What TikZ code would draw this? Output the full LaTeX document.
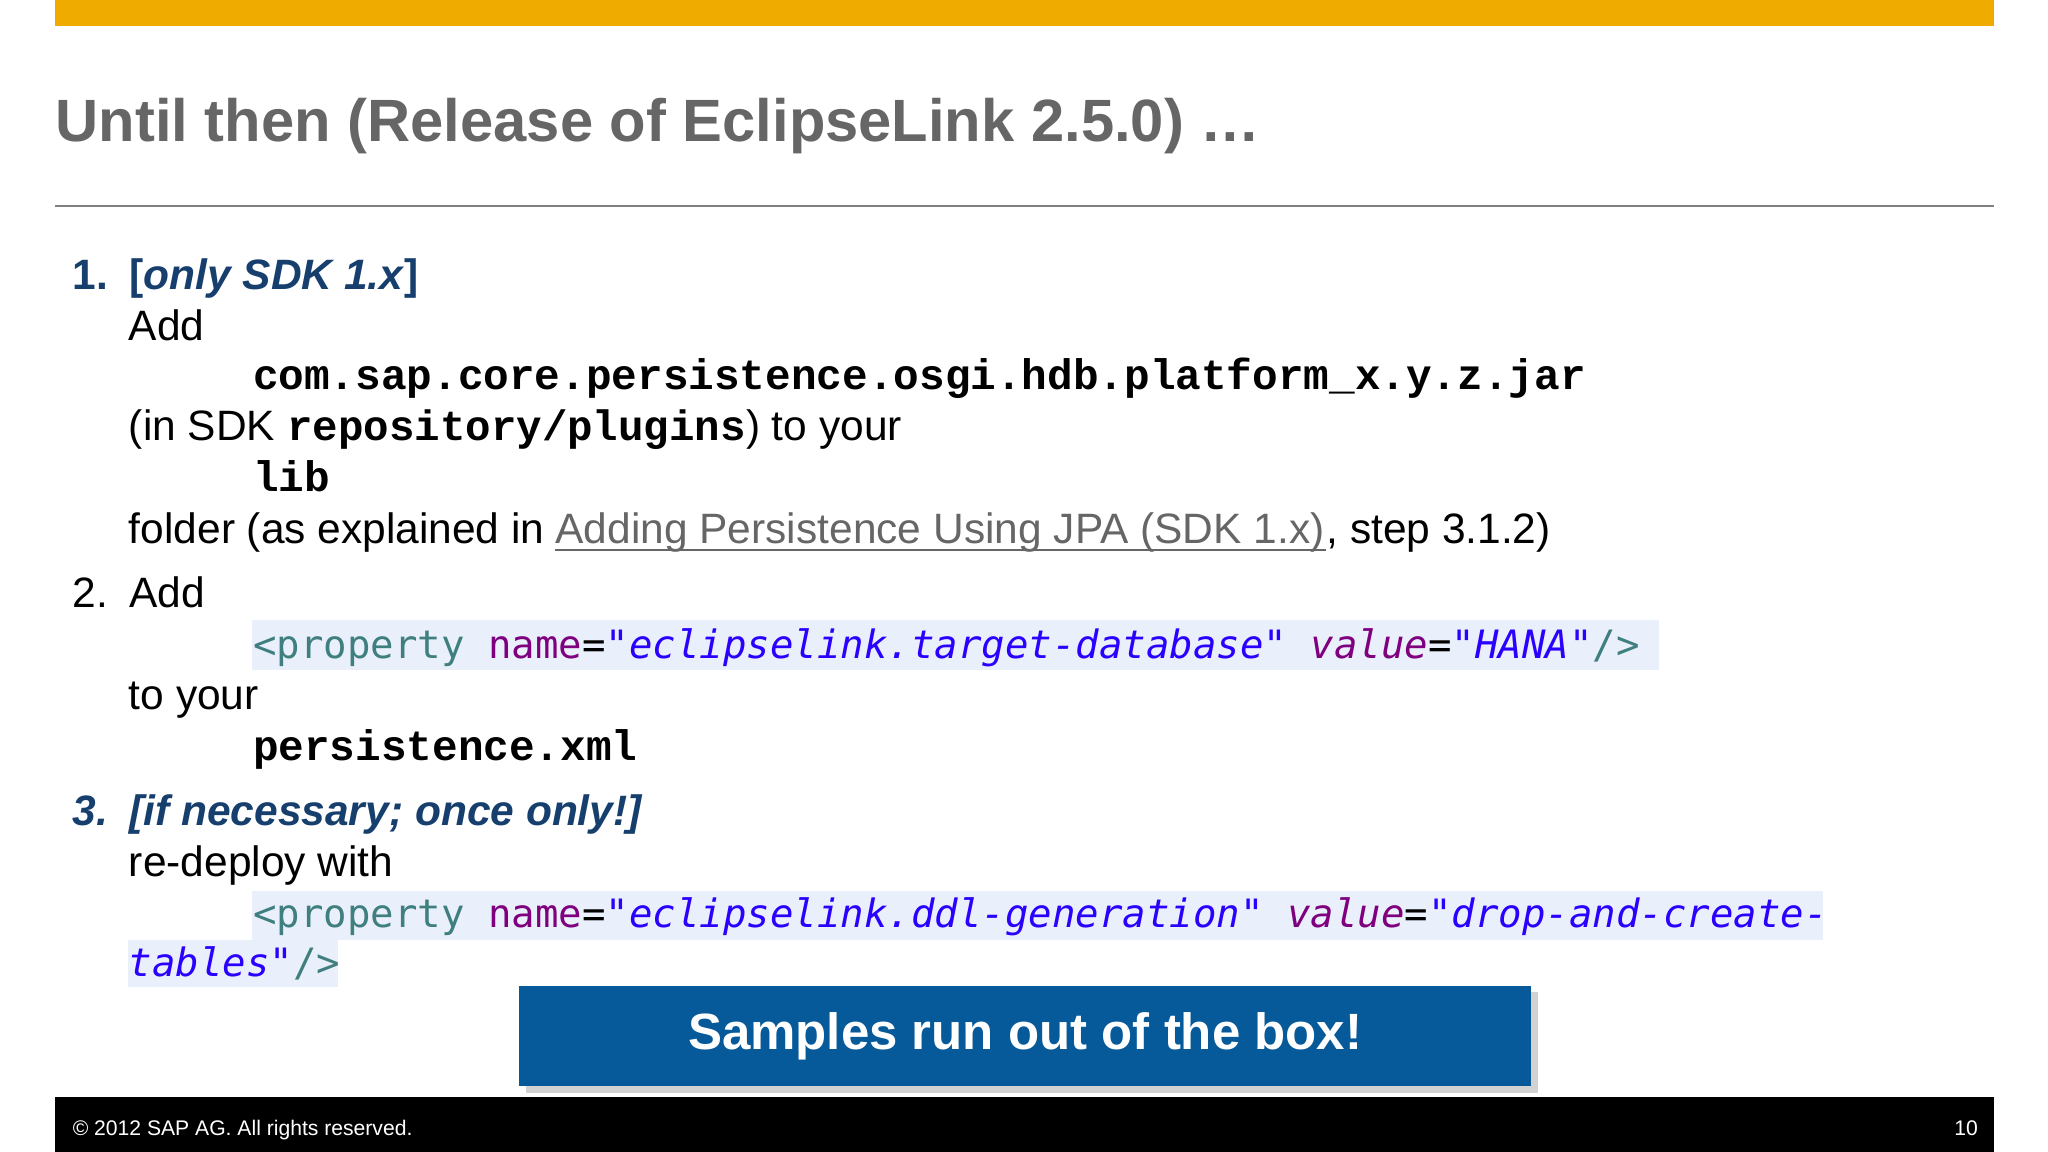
\documentclass[tikz,border=0pt]{standalone}
\usepackage{fontspec}
\setmainfont{Liberation Sans}
\setmonofont{Liberation Mono}
\newfontfamily\cons{DejaVu Sans Mono}
\usetikzlibrary{shadows}
\definecolor{sapor}{HTML}{F0AB00}
\definecolor{ttl}{HTML}{666666}
\definecolor{dblue}{HTML}{173F6E}
\definecolor{hl}{HTML}{EAF0FB}
\definecolor{ctag}{HTML}{3F7F7F}
\definecolor{cattr}{HTML}{7F007F}
\definecolor{cstr}{HTML}{2A00FF}
\definecolor{boxb}{HTML}{065A9A}
\tikzset{
 txt/.style={anchor=base west,inner sep=0pt,font=\fontsize{9.25pt}{10pt}\selectfont},
 bcode/.style={anchor=base west,inner sep=0pt,font=\fontsize{9.3pt}{10pt}\selectfont\ttfamily\bfseries},
 ccode/.style={anchor=base west,inner sep=0pt,font=\fontsize{8.5pt}{10pt}\selectfont\cons},
}
\newcommand{\tg}[1]{\textcolor{ctag}{#1}}
\newcommand{\at}[1]{\textcolor{cattr}{#1}}
\newcommand{\st}[1]{\textcolor{cstr}{\itshape #1}}
\begin{document}
\begin{tikzpicture}[x=0.01cm,y=-0.01cm]
\useasboundingbox (0,0) rectangle (1568,882);
\fill[white] (0,0) rectangle (1568,882);
\fill[sapor] (42,0) rectangle (1527,20);
\node[anchor=base west,inner sep=0pt,text=ttl,font=\fontsize{13pt}{16pt}\selectfont\bfseries] (title) at (42,108) {Until then (Release of EclipseLink 2.5.0) …};
\draw[gray,line width=0.4pt] (42,158) -- (1527,158);
% item 1
\node[txt,text=dblue,font=\fontsize{9.25pt}{10pt}\selectfont\bfseries] (n1) at (55,222) {1.\hspace{0.5em}[\textit{only SDK 1.x}]};
\node[txt] (a1) at (98,261) {Add};
\node[bcode] (c1) at (193,298) {com.sap.core.persistence.osgi.hdb.platform\_x.y.z.jar};
\node[txt] (a2) at (98,337) {(in SDK {\ttfamily\bfseries repository/plugins}) to your};
\node[bcode] (c2) at (193,376) {lib};
\node[txt] (a3) at (98,416) {folder (as explained in};
\node[txt,text=ttl] (lnk) at ([xshift=0.07cm]a3.base east) {Adding Persistence Using JPA (SDK 1.x)};
\node[txt] (a3b) at (lnk.base east) {, step 3.1.2)};
\draw[ttl,line width=0.5pt] ([yshift=-0.05cm]lnk.base west) -- ([yshift=-0.05cm]lnk.base east);
% item 2
\node[txt] (n2) at (55,465) {2.\hspace{0.5em}Add};
\fill[hl] (193,475) rectangle (1270,513);
\node[ccode] (c3) at (193,504) {\tg{<property} \at{name}=\st{"eclipselink.target-database"} \at{\itshape value}=\st{"HANA"}\tg{/>}};
\node[txt] (a4) at (98,543) {to your};
\node[bcode] (c4) at (193,582) {persistence.xml};
% item 3
\node[txt,text=dblue,font=\fontsize{9.25pt}{10pt}\selectfont\bfseries\itshape] (n3) at (55,632) {3.\hspace{0.5em}[if necessary; once only!]};
\node[txt] (a5) at (98,671) {re-deploy with};
\fill[hl] (193,682) rectangle (1396,720);
\fill[hl] (98,720) rectangle (259,756);
\node[ccode] (c5) at (193,710) {\tg{<property} \at{name}=\st{"eclipselink.ddl-generation"} \at{\itshape value}=\st{"drop-and-create-}};
\node[ccode] (c6) at (98,748) {\st{tables"}\tg{/>}};
% box
\node[draw=none,fill=boxb,drop shadow={opacity=0.35,shadow xshift=0.05cm,shadow yshift=-0.05cm},minimum width=7.74cm,minimum height=0.77cm,anchor=north west,text=white,font=\fontsize{11.1pt}{13pt}\selectfont\bfseries] (box) at (397,754) {Samples run out of the box!};
% footer
\fill[black] (42,840) rectangle (1527,882);
\node[anchor=base west,inner sep=0pt,text=white,font=\fontsize{4.6pt}{6pt}\selectfont] (copy) at (55,869) {©\ 2012 SAP AG. All rights reserved.};
\node[anchor=base east,inner sep=0pt,text=white,font=\fontsize{4.6pt}{6pt}\selectfont] (pg) at (1515,869) {10};
\end{tikzpicture}
\end{document}
